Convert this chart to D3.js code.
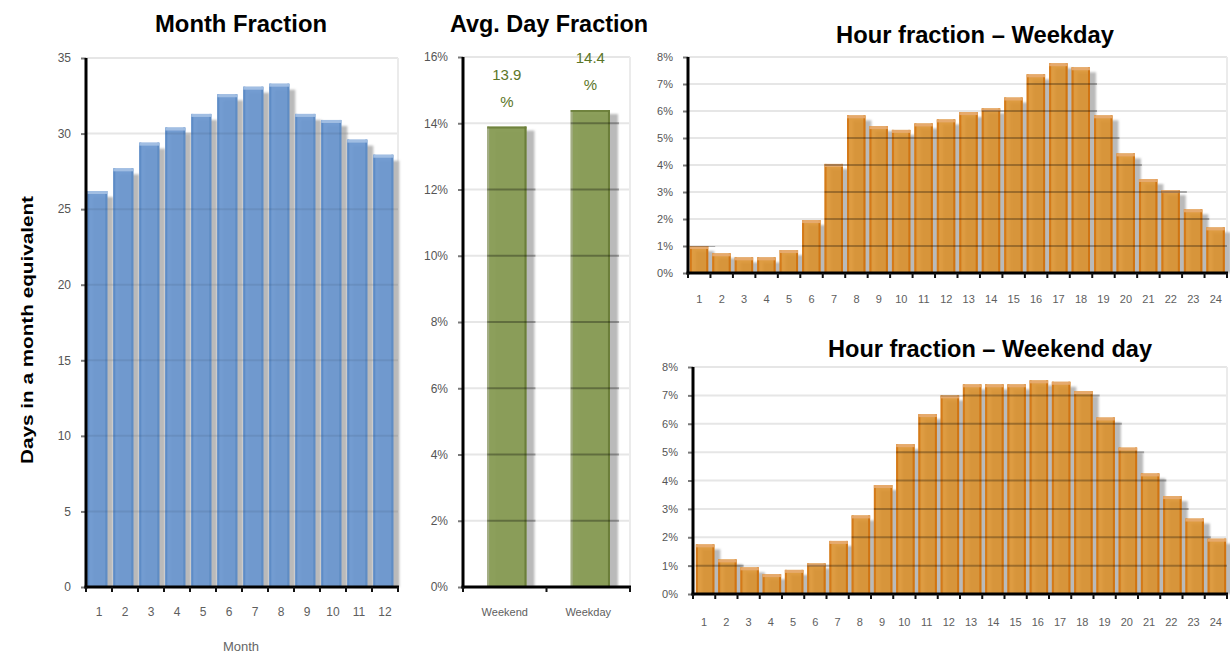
<!DOCTYPE html>
<html>
<head>
<meta charset="utf-8">
<script src="https://cdn.jsdelivr.net/npm/d3@7"></script>
<style>
  body { margin: 0; background: #fff; }
  svg { display: block; }
</style>
</head>
<body>
<svg id="chart" width="1230" height="655"></svg>
<script>
// ---- data ----
const months = ["1","2","3","4","5","6","7","8","9","10","11","12"];
const monthDays = [26.2, 27.7, 29.4, 30.4, 31.3, 32.6, 33.1, 33.3, 31.3, 30.9, 29.6, 28.6];
const monthTicks = [0, 5, 10, 15, 20, 25, 30, 35];

const dayTypes = ["Weekend", "Weekday"];
const dayFraction = [13.9, 14.4];          // percent
const dayTicks = [0, 2, 4, 6, 8, 10, 12, 14, 16];

const hours = ["1","2","3","4","5","6","7","8","9","10","11","12",
               "13","14","15","16","17","18","19","20","21","22","23","24"];
const weekdayHour = [1.0, 0.73, 0.58, 0.58, 0.85, 1.96, 4.04, 5.84, 5.44, 5.30, 5.54, 5.69,
                     5.96, 6.10, 6.50, 7.36, 7.77, 7.62, 5.84, 4.43, 3.48, 3.07, 2.36, 1.69];
const weekendHour = [1.75, 1.22, 0.94, 0.70, 0.85, 1.08, 1.87, 2.77, 3.84, 5.28, 6.34, 7.00,
                     7.39, 7.39, 7.39, 7.53, 7.48, 7.15, 6.22, 5.16, 4.25, 3.45, 2.66, 1.95];
const hourTicks = [0, 1, 2, 3, 4, 5, 6, 7, 8];

const FONT = "'Liberation Sans', Arial, sans-serif";
const svg = d3.select("#chart");

const defs = svg.append("defs");
defs.append("filter").attr("id", "soft")
  .attr("x", "-20%").attr("y", "-5%").attr("width", "140%").attr("height", "110%")
  .append("feGaussianBlur").attr("stdDeviation", 0.8);

// one bar panel: grid, shadows, bars, axes, labels
function panel(o) {
  const g = svg.append("g");
  const x = d3.scaleBand().domain(o.cats).range([o.x0, o.x1]);
  const y = d3.scaleLinear().domain([0, o.max]).range([o.yBot, o.yTop]);
  const rows = o.cats.map((c, i) => ({ c, v: o.values[i] }));
  const bw = x.step() * o.w;
  const bx = d => x(d.c) + x.step() * o.off;

  // light gridlines and plot border
  g.append("g").selectAll("line").data(o.ticks.filter(t => t > 0)).join("line")
    .attr("x1", o.x0).attr("x2", o.x1)
    .attr("y1", d => y(d)).attr("y2", d => y(d))
    .attr("stroke", "#e6e6e6").attr("stroke-width", 2);
  g.append("line")
    .attr("x1", o.x1).attr("x2", o.x1).attr("y1", y(o.max)).attr("y2", o.yBot)
    .attr("stroke", "#ebebeb").attr("stroke-width", 2);

  // drop shadows
  g.append("g").attr("filter", "url(#soft)").selectAll("rect").data(rows).join("rect")
    .attr("x", d => bx(d) + o.sdx).attr("y", d => y(d.v) + o.sdy)
    .attr("width", bw).attr("height", d => o.yBot - y(d.v) - o.sdy)
    .attr("fill", "#bababa");

  // bars
  const bars = g.append("g").selectAll("g").data(rows).join("g");
  bars.append("rect")
    .attr("x", d => bx(d)).attr("y", d => y(d.v))
    .attr("width", bw).attr("height", d => o.yBot - y(d.v))
    .attr("fill", o.fill).attr("fill-opacity", o.alpha);
  bars.append("rect")
    .attr("x", d => bx(d)).attr("y", d => y(d.v))
    .attr("width", 2).attr("height", d => o.yBot - y(d.v))
    .attr("fill", o.leftEdge);
  bars.append("rect")
    .attr("x", d => bx(d) + bw - 2).attr("y", d => y(d.v))
    .attr("width", 2).attr("height", d => o.yBot - y(d.v))
    .attr("fill", o.rightEdge);
  bars.append("rect")
    .attr("x", d => bx(d)).attr("y", d => y(d.v))
    .attr("width", bw).attr("height", o.topH)
    .attr("fill", o.topEdge).attr("fill-opacity", 0.85);

  // gridlines seen through the bars and shadows
  const clipId = "clip" + o.id;
  const clip = defs.append("clipPath").attr("id", clipId);
  rows.forEach(d => {
    clip.append("rect").attr("x", bx(d)).attr("y", y(d.v))
      .attr("width", bw + o.sdx + 1).attr("height", o.yBot - y(d.v));
  });
  g.append("g").attr("clip-path", `url(#${clipId})`)
    .selectAll("line").data(o.ticks.filter(t => t > 0)).join("line")
    .attr("x1", o.x0).attr("x2", o.x1)
    .attr("y1", d => y(d)).attr("y2", d => y(d))
    .attr("stroke", "#000").attr("stroke-opacity", o.gridAlpha).attr("stroke-width", 2);

  // left axis ticks and labels
  g.append("g").attr("transform", `translate(${o.x0},0)`)
    .call(d3.axisLeft(y).tickValues(o.ticks).tickFormat(o.fmt).tickSize(5).tickPadding(10))
    .call(a => a.select(".domain").remove())
    .call(a => a.selectAll("line").attr("stroke", "#7a7a7a").attr("stroke-width", 2))
    .call(a => a.selectAll("text").attr("fill", "#555")
      .style("font-family", FONT).style("font-size", o.yFont + "px"));

  // bottom category labels
  g.append("g").attr("transform", `translate(0,${o.yBot})`)
    .call(d3.axisBottom(x).tickSize(0).tickPadding(o.xPad))
    .call(a => a.select(".domain").remove())
    .call(a => a.selectAll("text").attr("fill", "#5e5e5e")
      .style("font-family", FONT).style("font-size", o.xFont + "px"));

  // black axis lines and category separators
  g.append("line").attr("x1", o.x0).attr("x2", o.x0)
    .attr("y1", y(o.max)).attr("y2", o.yBot + 1.5)
    .attr("stroke", "#000").attr("stroke-width", 3);
  g.append("line").attr("x1", o.x0 - 1.5).attr("x2", o.x1 + 1)
    .attr("y1", o.yBot).attr("y2", o.yBot)
    .attr("stroke", "#000").attr("stroke-width", 3);
  const seps = o.cats.map(c => x(c)).concat([o.x1]);
  g.append("g").selectAll("line").data(seps).join("line")
    .attr("x1", d => d).attr("x2", d => d)
    .attr("y1", o.yBot).attr("y2", o.yBot + 5)
    .attr("stroke", "#111").attr("stroke-width", 2);

  return { g, x, y, rows, bx, bw };
}

function title(txt, cx, base, len) {
  svg.append("text").attr("x", cx).attr("y", base)
    .attr("text-anchor", "middle")
    .attr("textLength", len).attr("lengthAdjust", "spacingAndGlyphs")
    .style("font-family", FONT).style("font-size", "24px").style("font-weight", "bold")
    .attr("fill", "#000").text(txt);
}

// ---- Month Fraction ----
panel({
  id: "m", cats: months, values: monthDays, max: 35, ticks: monthTicks, fmt: d3.format("d"),
  x0: 86, x1: 398, yTop: 58, yBot: 587, off: 0.05, w: 0.77, sdx: 6, sdy: 6,
  fill: "#6b97cf", alpha: 0.95, leftEdge: "#5e8cc6", rightEdge: "#5f8cc4", topEdge: "#a9c4e6", topH: 3,
  gridAlpha: 0.07, yFont: 12, xFont: 12, xPad: 20
});
title("Month Fraction", 241, 32, 172);
svg.append("text").attr("transform", "translate(33,330) rotate(-90)")
  .attr("text-anchor", "middle").attr("textLength", 268).attr("lengthAdjust", "spacingAndGlyphs")
  .style("font-family", FONT).style("font-size", "16px").style("font-weight", "bold")
  .attr("fill", "#000").text("Days in a month equivalent");
svg.append("text").attr("x", 241).attr("y", 651).attr("text-anchor", "middle")
  .style("font-family", FONT).style("font-size", "13px")
  .attr("fill", "#666").text("Month");

// ---- Avg. Day Fraction ----
const day = panel({
  id: "d", cats: dayTypes, values: dayFraction, max: 16, ticks: dayTicks, fmt: d => d + "%",
  x0: 463, x1: 630, yTop: 57, yBot: 587, off: 0.29, w: 0.47, sdx: 8, sdy: 4,
  fill: "#889c56", alpha: 0.97, leftEdge: "#a4ad86", rightEdge: "#6b7e3a", topEdge: "#6b7e3a", topH: 2,
  gridAlpha: 0.3, yFont: 12, xFont: 11, xPad: 21
});
title("Avg. Day Fraction", 549, 32, 198);
const lbl = day.g.append("g").selectAll("text").data(day.rows).join("text")
  .attr("x", d => day.bx(d) + day.bw / 2)
  .attr("text-anchor", "middle")
  .style("font-family", FONT).style("font-size", "15px")
  .attr("fill", "#5b7628");
lbl.append("tspan").attr("x", d => day.bx(d) + day.bw / 2)
  .attr("y", d => day.y(d.v) - 47).text(d => d3.format(".1f")(d.v));
lbl.append("tspan").attr("x", d => day.bx(d) + day.bw / 2)
  .attr("y", d => day.y(d.v) - 20).text("%");

// ---- Hour fraction – Weekday ----
panel({
  id: "wd", cats: hours, values: weekdayHour, max: 8, ticks: hourTicks, fmt: d => d + "%",
  x0: 688, x1: 1227, yTop: 57, yBot: 273, off: 0.08, w: 0.82, sdx: 6, sdy: 5,
  fill: "#da912d", alpha: 0.9, leftEdge: "#d47a19", rightEdge: "#cf7413", topEdge: "#e8ad74", topH: 3,
  gridAlpha: 0.28, yFont: 11, xFont: 11, xPad: 22
});
title("Hour fraction \u2013 Weekday", 975, 43, 278);

// ---- Hour fraction – Weekend day ----
panel({
  id: "we", cats: hours, values: weekendHour, max: 8, ticks: hourTicks, fmt: d => d + "%",
  x0: 693, x1: 1227, yTop: 367, yBot: 594, off: 0.13, w: 0.83, sdx: 6, sdy: 5,
  fill: "#da912d", alpha: 0.9, leftEdge: "#d47a19", rightEdge: "#cf7413", topEdge: "#e8ad74", topH: 3,
  gridAlpha: 0.28, yFont: 11, xFont: 11, xPad: 24
});
title("Hour fraction \u2013 Weekend day", 990, 357, 324);
</script>
</body>
</html>
